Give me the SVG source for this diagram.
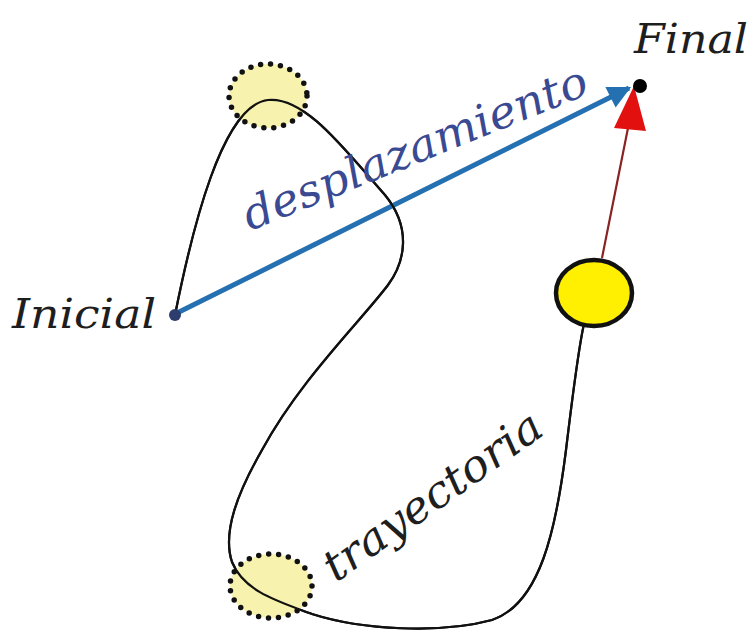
<svg xmlns="http://www.w3.org/2000/svg" width="755" height="631" viewBox="0 0 755 631">
<defs>
<style>
.lbl{font-family:"DejaVu Serif","Liberation Serif",serif;font-style:italic;fill:#1e1e1e}
.dot{fill:#f7f2ae;stroke:#111;stroke-width:5.5;stroke-dasharray:0 10;stroke-linecap:round}
.path{fill:none;stroke:#111;stroke-width:2.2}
</style>
<marker id="ahBlue" viewBox="0 0 10 10" refX="9" refY="5" markerWidth="5" markerHeight="4.6" orient="auto" markerUnits="strokeWidth">
<path d="M0,0 L10,5 L0,10 Z" fill="#2470b0"/>
</marker>
</defs>
<rect width="755" height="631" fill="#fff"/>
<g id="connectors">
<path id="trayectoria-path" class="path" d="M175,315 C192,230 222,105 268,100 C305,96 345,150 385,195 C412,228 405,262 388,285 C360,322 300,380 262,450 C238,492 222,532 232,562 C244,592 280,602 312,614 C362,630 440,634 492,620 C540,604 556,530 566,450 C572,400 578,350 584,324"/>
<line id="desplazamiento-arrow" x1="175" y1="314" x2="629" y2="88" stroke="#2470b0" stroke-width="5" marker-end="url(#ahBlue)"/>
<line id="red-line" x1="602" y1="258" x2="628" y2="128" stroke="#8a2424" stroke-width="2.2"/>
<polygon id="red-head" points="634,86 646,131 614,128" fill="#e31010"/>
</g>
<g id="circle-top"><ellipse class="dot" cx="268" cy="96" rx="39" ry="32"/></g>
<g id="circle-bottom"><ellipse class="dot" cx="271" cy="586" rx="41" ry="32"/></g>
<use href="#trayectoria-path"/>
<g id="ball"><ellipse cx="594" cy="293" rx="38" ry="33" fill="#ffef00" stroke="#111" stroke-width="4.5"/></g>
<g id="inicial"><circle cx="175" cy="315" r="6" fill="#2d3d6e"/>
<text class="lbl" x="12" y="328" font-size="41" textLength="144" lengthAdjust="spacingAndGlyphs">Inicial</text></g>
<g id="final"><circle cx="640" cy="86" r="7" fill="#000"/>
<text class="lbl" x="634" y="53" font-size="41" textLength="114" lengthAdjust="spacingAndGlyphs">Final</text></g>
<text class="lbl" transform="translate(250,231) rotate(-22)" font-size="44" textLength="368" lengthAdjust="spacingAndGlyphs" style="fill:#3a4a92">desplazamiento</text>
<text class="lbl" transform="translate(336,583) rotate(-35.5)" font-size="44" textLength="258" lengthAdjust="spacingAndGlyphs">trayectoria</text>
</svg>
